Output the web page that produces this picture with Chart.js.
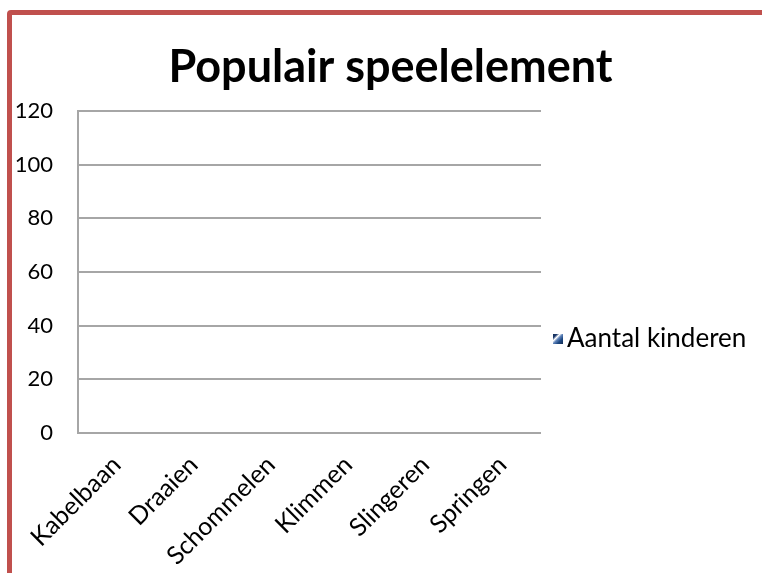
<!DOCTYPE html>
<html><head><meta charset="utf-8">
<script src="https://cdn.jsdelivr.net/npm/chart.js@4"></script>
<style>
html,body{margin:0;padding:0;width:762px;height:573px;overflow:hidden;background:#fff}
#frame{position:absolute;left:7px;top:10px;width:820px;height:640px;border:5px solid #C0504D;border-radius:4px;box-sizing:border-box}
#wrap{position:absolute;left:0;top:0;width:762px;height:573px}
</style></head><body>
<div id="frame"></div>
<div id="wrap"><canvas id="c" width="762" height="573"></canvas></div>
<script>
const chartTitle = 'Populair speelelement';
const seriesLabel = 'Aantal kinderen';
const categories = ['Kabelbaan', 'Draaien', 'Schommelen', 'Klimmen', 'Slingeren', 'Springen'];
const aantalKinderen = [0, 0, 0, 0, 0, 0];
const yTicks = [0, 20, 40, 60, 80, 100, 120];

const FONT = 'Lato, "Open Sans", sans-serif';
const tickSize = 22, catSize = 25, legendSize = 26, titleSize = 45;
const m = document.createElement('canvas').getContext('2d');
m.font = legendSize + 'px ' + FONT;
const legendTextW = m.measureText(seriesLabel).width;

const plotLeft = 78, plotRight = 541, plotBottom = 433;
const legendPad = 11, legendBoxW = 2;
const legendW = legendPad + legendBoxW + legendSize / 2 + legendTextW + 10;
const padRight = Math.max(0, 762 - plotRight - legendW);
const padLeft = padRight + 19;

const icon = document.createElement('canvas');
icon.width = 20; icon.height = 10;
const ic = icon.getContext('2d');
const g = ic.createLinearGradient(10, 0, 20, 10);
g.addColorStop(0, '#0F2A50');
g.addColorStop(0.2, '#1F3C6E');
g.addColorStop(0.35, '#ffffff');
g.addColorStop(0.5, '#5E82B8');
g.addColorStop(0.7, '#1F4A85');
g.addColorStop(1, '#112B52');
ic.fillStyle = g;
ic.fillRect(10, 0, 10, 10);

const yLabelRoom = {
  id: 'yLabelRoom',
  afterLayout(chart) { chart.scales.y.left = 0; }
};

new Chart(document.getElementById('c'), {
  type: 'bar',
  data: {
    labels: categories,
    datasets: [{ label: seriesLabel, data: aantalKinderen, backgroundColor: '#4F81BD' }]
  },
  plugins: [yLabelRoom],
  options: {
    responsive: false, animation: false, devicePixelRatio: 1,
    layout: { padding: { left: padLeft, right: padRight, top: 0, bottom: 0 } },
    plugins: {
      title: { display: true, text: chartTitle, color: '#000',
        font: { family: FONT, size: titleSize, weight: 'bold' }, padding: { top: 40, bottom: 17 } },
      legend: {
        position: 'right', align: 'center', maxWidth: 400,
        title: { display: true, text: '', padding: { top: 90.6, bottom: 0 }, font: { size: 12 } },
        labels: { usePointStyle: true, pointStyle: icon, pointStyleWidth: legendBoxW, padding: legendPad,
          color: '#000', font: { family: FONT, size: legendSize } }
      },
      tooltip: { enabled: false }
    },
    scales: {
      x: {
        grid: { display: false, drawTicks: false }, border: { display: false },
        ticks: { color: '#000', font: { family: FONT, size: catSize }, minRotation: 45, maxRotation: 45, autoSkip: false, padding: 17 },
        afterFit(s) { s.height = 573 - plotBottom; }
      },
      y: {
        min: yTicks[0], max: yTicks[yTicks.length - 1],
        ticks: { stepSize: yTicks[1] - yTicks[0], color: '#000', font: { family: FONT, size: tickSize }, padding: 25 },
        grid: { color: '#a6a6a6', lineWidth: 2, drawTicks: false },
        border: { display: true, color: '#a6a6a6', width: 2 },
        afterFit(s) { s.width = plotLeft - padLeft; }
      }
    }
  }
});
</script>
</body></html>
